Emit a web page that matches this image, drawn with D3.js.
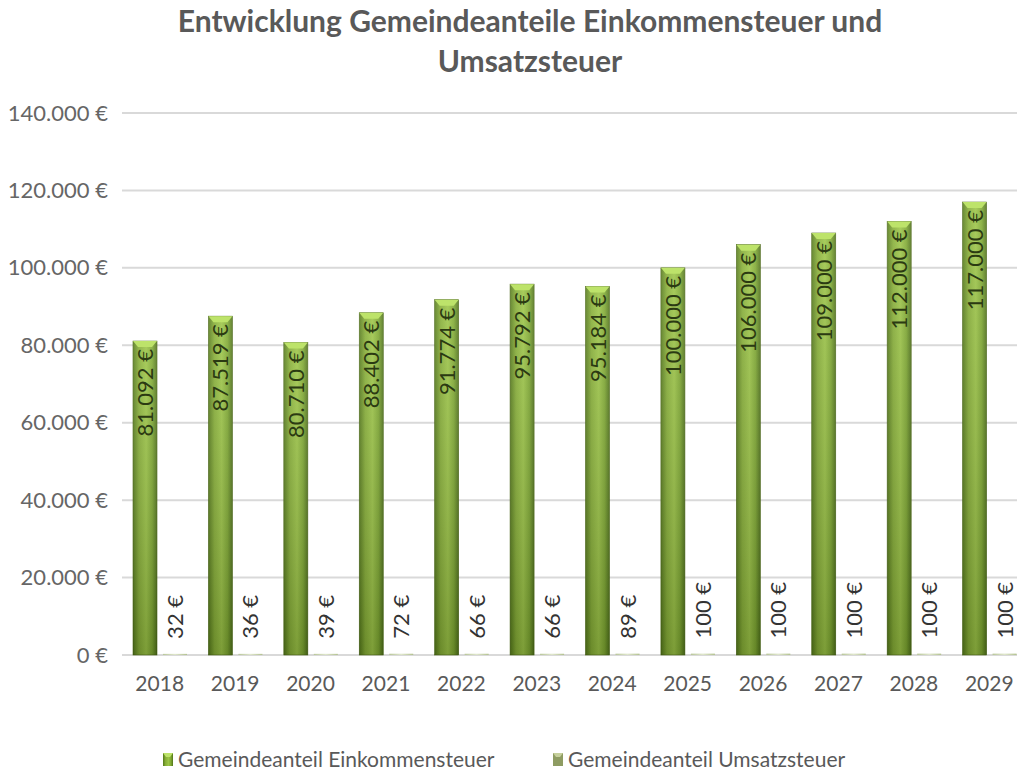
<!DOCTYPE html>
<html>
<head>
<meta charset="utf-8">
<script src="https://cdn.jsdelivr.net/npm/d3@7"></script>
<style>
  body { margin: 0; background: #fff; overflow: hidden; }
  text { font-family: Lato, "Open Sans", sans-serif; }
</style>
</head>
<body>
<div id="chart"></div>
<script>
const years = ['2018', '2019', '2020', '2021', '2022', '2023', '2024', '2025', '2026', '2027', '2028', '2029'];
const einkommen = [81092, 87519, 80710, 88402, 91774, 95792, 95184, 100000, 106000, 109000, 112000, 117000];
const umsatz = [32, 36, 39, 72, 66, 66, 89, 100, 100, 100, 100, 100];
const yTicks = [0, 20000, 40000, 60000, 80000, 100000, 120000, 140000];
const seriesNames = ['Gemeindeanteil Einkommensteuer', 'Gemeindeanteil Umsatzsteuer'];
const titleLines = ['Entwicklung Gemeindeanteile Einkommensteuer und', 'Umsatzsteuer'];

const width = 1017, height = 776;
const margin = { top: 113, right: -10, bottom: 121, left: 122 };
const innerW = width - margin.left - margin.right;
const innerH = height - margin.top - margin.bottom;

const de = d3.formatLocale({ decimal: ',', thousands: '.', grouping: [3], currency: ['', ' €'] });
const fmt = v => de.format(',')(v) + ' €';

const svg = d3.select('#chart').append('svg')
  .attr('width', width).attr('height', height);

const defs = svg.append('defs');
const g1 = defs.append('linearGradient').attr('id', 'gGreen').attr('x1', 0).attr('x2', 1).attr('y1', 0).attr('y2', 0);
g1.append('stop').attr('offset', '0%').attr('stop-color', '#557a1a');
g1.append('stop').attr('offset', '25%').attr('stop-color', '#86ae36');
g1.append('stop').attr('offset', '55%').attr('stop-color', '#9cc546');
g1.append('stop').attr('offset', '80%').attr('stop-color', '#7ea831');
g1.append('stop').attr('offset', '100%').attr('stop-color', '#50731a');
const gShade = defs.append('linearGradient').attr('id', 'gShade').attr('x1', 0).attr('x2', 0).attr('y1', 0).attr('y2', 1);
gShade.append('stop').attr('offset', '0%').attr('stop-color', '#ffffff').attr('stop-opacity', 0.12);
gShade.append('stop').attr('offset', '100%').attr('stop-color', '#000000').attr('stop-opacity', 0.2);
const g2 = defs.append('linearGradient').attr('id', 'gPale').attr('x1', 0).attr('x2', 1).attr('y1', 0).attr('y2', 0);
g2.append('stop').attr('offset', '0%').attr('stop-color', '#b9c79a');
g2.append('stop').attr('offset', '50%').attr('stop-color', '#dfe6cc');
g2.append('stop').attr('offset', '100%').attr('stop-color', '#b3c290');

// title
svg.append('g').selectAll('text').data(titleLines).join('text')
  .attr('x', 530).attr('y', (d, i) => 32 + i * 40)
  .attr('text-anchor', 'middle')
  .attr('font-size', 30).attr('font-weight', 'bold')
  .attr('fill', '#595959')
  .text(d => d);

const chart = svg.append('g').attr('transform', `translate(${margin.left},${margin.top})`);

const x = d3.scaleBand().domain(years).range([0, innerW]);
const y = d3.scaleLinear().domain([0, 140000]).range([innerH, 0]);

// gridlines
chart.append('g').selectAll('line').data(yTicks).join('line')
  .attr('x1', 0).attr('x2', innerW)
  .attr('y1', d => y(d)).attr('y2', d => y(d))
  .attr('stroke', '#d9d9d9').attr('stroke-width', 2);

// y axis labels
const yAxis = d3.axisLeft(y).tickValues(yTicks).tickFormat(fmt).tickSize(0).tickPadding(14);
chart.append('g').call(yAxis)
  .call(g => g.select('.domain').remove())
  .selectAll('text')
  .attr('font-size', 22).attr('fill', '#666666')
  .attr('font-family', 'Lato, "Open Sans", sans-serif');

// x axis labels
const xAxis = d3.axisBottom(x).tickSize(0).tickPadding(21);
chart.append('g').attr('transform', `translate(0,${innerH})`).call(xAxis)
  .call(g => g.select('.domain').remove())
  .selectAll('text')
  .attr('font-size', 21).attr('fill', '#595959')
  .attr('font-family', 'Lato, "Open Sans", sans-serif');

const bw = 24;
const off1 = 11, off2 = 41;

// green bars
const gb = chart.append('g').selectAll('g').data(years).join('g');
gb.append('rect')
  .attr('x', d => x(d) + off1)
  .attr('y', (d, i) => y(einkommen[i]))
  .attr('width', bw)
  .attr('height', (d, i) => innerH - y(einkommen[i]))
  .attr('fill', 'url(#gGreen)')
  .attr('stroke', '#4a6616').attr('stroke-width', 0.6);
gb.append('rect')
  .attr('x', d => x(d) + off1)
  .attr('y', (d, i) => y(einkommen[i]))
  .attr('width', bw)
  .attr('height', (d, i) => innerH - y(einkommen[i]))
  .attr('fill', 'url(#gShade)');
// bevel on top
gb.append('path')
  .attr('d', (d, i) => {
    const x0 = x(d) + off1, y0 = y(einkommen[i]);
    return `M${x0},${y0}L${x0 + bw},${y0}L${x0 + bw - 5},${y0 + 6}L${x0 + 5},${y0 + 6}Z`;
  })
  .attr('fill', '#bde36a');
gb.append('text')
  .attr('transform', (d, i) => `translate(${x(d) + off1 + bw / 2 + 8},${y(einkommen[i]) + 8}) rotate(-90)`)
  .attr('text-anchor', 'end')
  .attr('font-size', 22)
  .attr('fill', '#2b3a12')
  .text((d, i) => fmt(einkommen[i]));

// small bars
const sb = chart.append('g').selectAll('g').data(years).join('g');
sb.append('rect')
  .attr('x', d => x(d) + off2)
  .attr('y', (d, i) => y(umsatz[i]) - 1)
  .attr('width', bw)
  .attr('height', (d, i) => innerH - y(umsatz[i]) + 1)
  .attr('fill', 'url(#gPale)');
sb.append('text')
  .attr('transform', (d, i) => `translate(${x(d) + off2 + bw / 2 + 8},${y(umsatz[i]) - 16}) rotate(-90)`)
  .attr('text-anchor', 'start')
  .attr('font-size', 22)
  .attr('fill', '#333333')
  .text((d, i) => fmt(umsatz[i]));

// legend
const legendX = [163, 553];
const lg = svg.append('g').selectAll('g').data(seriesNames).join('g')
  .attr('transform', (d, i) => `translate(${legendX[i]},753)`);
lg.append('rect')
  .attr('width', 10).attr('height', 13)
  .attr('fill', (d, i) => i === 0 ? 'url(#gGreen)' : '#8e9c62');
lg.append('path')
  .attr('d', 'M0,0L10,0L7,4L3,4Z')
  .attr('fill', (d, i) => i === 0 ? '#bde36a' : '#c6d09c');
lg.append('text')
  .attr('x', 15).attr('y', 14)
  .attr('font-size', 21).attr('fill', '#595959')
  .text(d => d);
</script>
</body>
</html>
